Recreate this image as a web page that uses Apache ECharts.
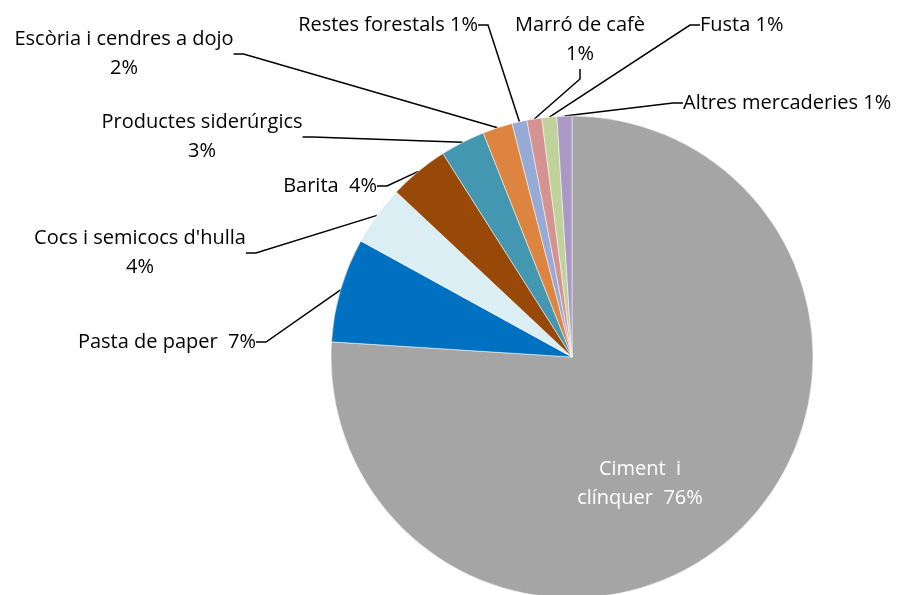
<!DOCTYPE html>
<html lang="ca">
<head>
    <meta charset="UTF-8">
    <title>Mercaderies</title>
    <style>
        html, body { margin: 0; padding: 0; background: #ffffff; }
        #main { width: 904px; height: 595px; }
    </style>
    <script type="text/javascript" src="https://cdn.jsdelivr.net/npm/echarts@6/dist/echarts.min.js"></script>
</head>
<body>
<div id="main"></div>
<script type="text/javascript">
    // dades
    var names = ['Ciment i clínquer', 'Pasta de paper', "Cocs i semicocs d'hulla", 'Barita',
        'Productes siderúrgics', 'Escòria i cendres a dojo', 'Restes forestals',
        'Marró de cafè', 'Fusta', 'Altres mercaderies'];
    var values = [76, 7, 4, 4, 3, 2, 1, 1, 1, 1];
    var colors = ['#a5a5a5', '#0070c0', '#dbeef4', '#984807', '#4397b0',
        '#de8441', '#95abd5', '#d49391', '#bed29a', '#a999c4'];

    // text of each label
    var labelText = [
        'Ciment  i\nclínquer  76%', '{n}  {p}%', '{n}\n{p}%', '{n}  {p}%', '{n}\n{p}%',
        '{n}\n{p}%', '{n} {p}%', '{n}\n{p}%', '{n} {p}%', '{n} {p}%'
    ];
    // where each label sits: x, y, align
    var labelPos = [
        [640, 484, 'center'], [256, 342, 'right'], [140, 253, 'center'], [377, 186, 'right'],
        [202, 137, 'center'], [124, 54, 'center'], [478, 25, 'right'], [580, 40, 'center'],
        [700, 25, 'left'], [683, 103, 'left']
    ];

    var chart = echarts.init(document.getElementById('main'));
    var data = names.map(function (n, i) {
        var item = {name: n, value: values[i], itemStyle: {color: colors[i]}};
        if (i === 0) {
            item.label = {color: '#ffffff'};
            item.labelLine = {show: false};
        }
        return item;
    });

    chart.setOption({
        animation: false,
        series: [{
            type: 'pie',
            center: [572, 357],
            radius: [0, 241],
            startAngle: 90,
            clockwise: true,
            avoidLabelOverlap: false,
            data: data,
            itemStyle: {borderColor: '#ffffff', borderWidth: 0.5},
            label: {
                show: true,
                position: 'outside',
                fontFamily: 'Open Sans',
                fontSize: 20,
                lineHeight: 29,
                color: '#000000',
                formatter: function (p) {
                    return labelText[p.dataIndex].replace('{n}', p.name)
                        .replace('{p}', Math.round(p.percent));
                }
            },
            labelLine: {
                show: true,
                length: 10,
                length2: 10,
                lineStyle: {color: '#000000', width: 1.5}
            },
            labelLayout: function (p) {
                var lp = labelPos[p.dataIndex];
                return {x: lp[0], y: lp[1], align: lp[2], verticalAlign: 'middle'};
            }
        }]
    });
</script>
</body>
</html>
